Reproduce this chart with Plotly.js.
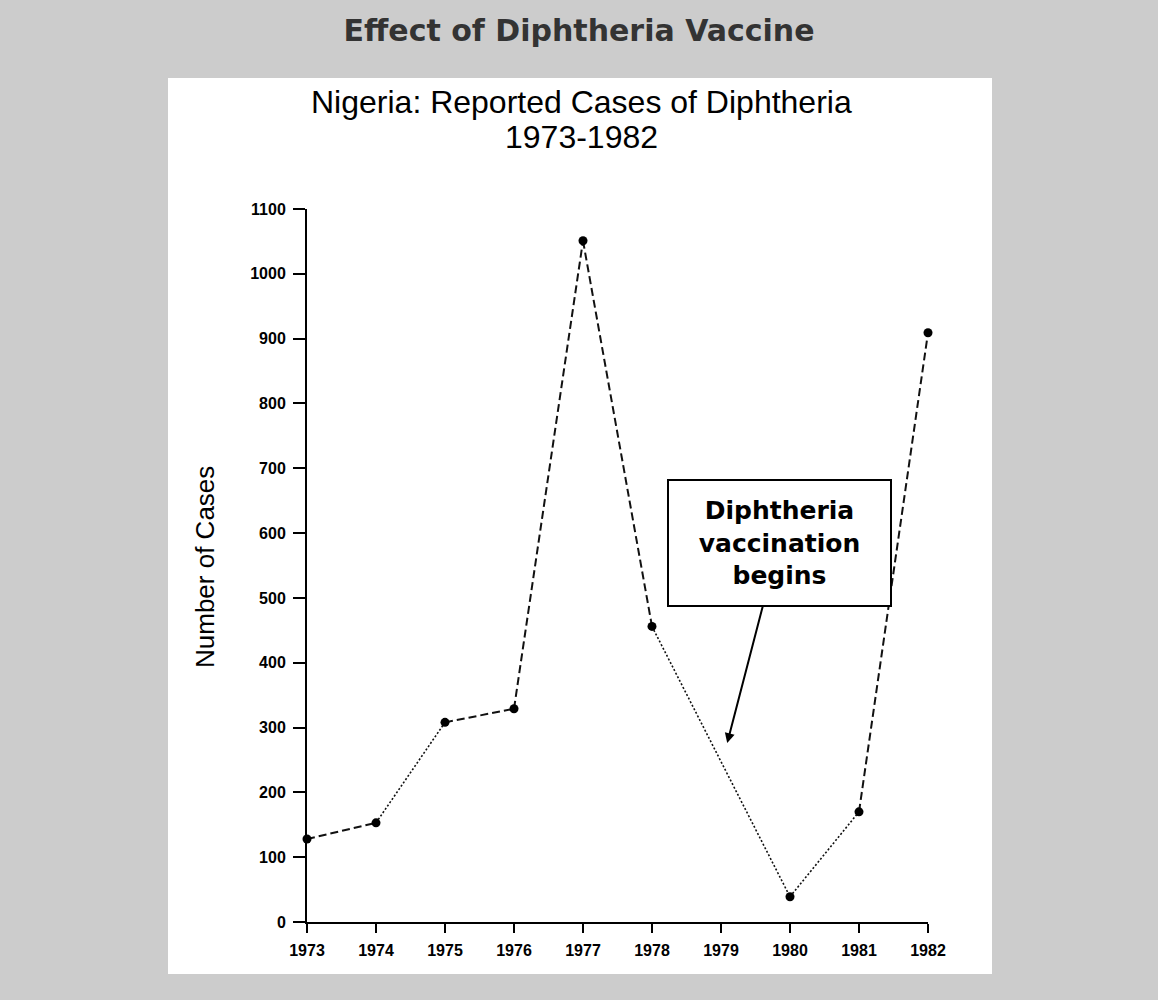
<!DOCTYPE html>
<html>
<head>
<meta charset="utf-8">
<script src="https://cdn.plot.ly/plotly-3.0.1.min.js"></script>
<style>html,body{margin:0;padding:0;background:#cccccc;}</style>
</head>
<body>
<div id="chart" style="width:1158px;height:1000px;"></div>
<script>
// ---- data ----
const years = [1973, 1974, 1975, 1976, 1977, 1978, 1980, 1981, 1982];
const cases = [128, 153, 308, 329, 1051, 456, 39, 170, 909];
// line style for each segment between consecutive points
const segmentStyle = ['dash', 'dot', 'dash', 'dash', 'dash', 'dot', 'dot', 'dash'];
const xTickYears = [1973, 1974, 1975, 1976, 1977, 1978, 1979, 1980, 1981, 1982];
const yTicks = [0, 100, 200, 300, 400, 500, 600, 700, 800, 900, 1000, 1100];
const vaccineYear = 1979.09;
const vaccineArrowValue = 276;

const dashMap = { dash: '8px,4px', dot: '2px,2px' };
const widthMap = { dash: 2, dot: 1.6 };

const traces = [];
for (let i = 0; i < years.length - 1; i++) {
  const s = segmentStyle[i];
  traces.push({
    x: [years[i], years[i + 1]],
    y: [cases[i], cases[i + 1]],
    mode: 'lines',
    line: { color: '#111', width: widthMap[s], dash: dashMap[s] },
    hoverinfo: 'skip',
    showlegend: false,
    cliponaxis: false
  });
}
traces.push({
  x: years, y: cases, mode: 'markers',
  marker: { color: '#000', size: 9 },
  showlegend: false, cliponaxis: false
});

// plot-area pixel geometry (for paper coordinates)
const L = 307, R = 928, T = 209, B = 922;
const px = v => (v - L) / (R - L);
const py = v => (B - v) / (B - T);

const tickFont = { family: 'Liberation Sans, Arial, sans-serif', size: 16, color: '#000', weight: 'bold' };

const layout = {
  width: 1158, height: 1000,
  paper_bgcolor: '#cccccc',
  plot_bgcolor: 'rgba(0,0,0,0)',
  margin: { l: L, r: 1158 - R, t: T, b: 1000 - B, pad: 0 },
  showlegend: false,
  title: {
    text: '<b>Effect of Diphtheria Vaccine</b>',
    font: { family: 'DejaVu Sans, Verdana, sans-serif', size: 30, color: '#333333' },
    x: 0.5, xref: 'container', xanchor: 'center',
    y: 0.97, yref: 'container', yanchor: 'middle'
  },
  xaxis: {
    range: [1973, 1982],
    tickmode: 'array', tickvals: xTickYears, ticktext: xTickYears.map(String),
    ticks: 'outside', ticklen: 9, tickwidth: 2, tickcolor: '#000',
    ticklabelstandoff: 4,
    showline: true, linewidth: 2, linecolor: '#000',
    showgrid: false, zeroline: false,
    tickfont: tickFont, fixedrange: true
  },
  yaxis: {
    range: [0, 1100],
    tickmode: 'array', tickvals: yTicks, ticktext: yTicks.map(String),
    ticks: 'outside', ticklen: 12, tickwidth: 2, tickcolor: '#000',
    ticklabelstandoff: 4,
    showline: true, linewidth: 2, linecolor: '#000',
    showgrid: false, zeroline: false,
    tickfont: tickFont, fixedrange: true
  },
  shapes: [{
    type: 'rect', xref: 'paper', yref: 'paper', layer: 'below',
    x0: px(168), x1: px(992), y0: py(974), y1: py(78),
    fillcolor: '#ffffff', line: { width: 0 }
  }],
  annotations: [
    {
      text: 'Nigeria: Reported Cases of Diphtheria',
      xref: 'paper', yref: 'paper', x: px(581), y: py(102),
      xanchor: 'center', yanchor: 'middle', showarrow: false,
      font: { family: 'Liberation Sans, Arial, sans-serif', size: 32, color: '#000' }
    },
    {
      text: '1973-1982',
      xref: 'paper', yref: 'paper', x: px(581), y: py(137),
      xanchor: 'center', yanchor: 'middle', showarrow: false,
      font: { family: 'Liberation Sans, Arial, sans-serif', size: 32, color: '#000' }
    },
    {
      text: 'Number of Cases',
      xref: 'paper', yref: 'paper', x: px(205), y: py(567),
      xanchor: 'center', yanchor: 'middle', showarrow: false, textangle: -90,
      font: { family: 'Liberation Sans, Arial, sans-serif', size: 26, color: '#000' }
    },
    {
      text: '<b>Diphtheria<br>vaccination<br>begins</b>',
      x: vaccineYear, y: vaccineArrowValue, xref: 'x', yref: 'y',
      ax: 52, ay: -200,
      showarrow: true, arrowhead: 2, arrowsize: 1, arrowwidth: 2, arrowcolor: '#000',
      standoff: 0,
      bgcolor: '#ffffff', bordercolor: '#000', borderwidth: 2, borderpad: 1,
      width: 219, height: 122,
      font: { family: 'DejaVu Sans, Verdana, sans-serif', size: 25, color: '#000' }
    }
  ]
};

Plotly.newPlot('chart', traces, layout, { displayModeBar: false, staticPlot: true });
</script>
</body>
</html>
